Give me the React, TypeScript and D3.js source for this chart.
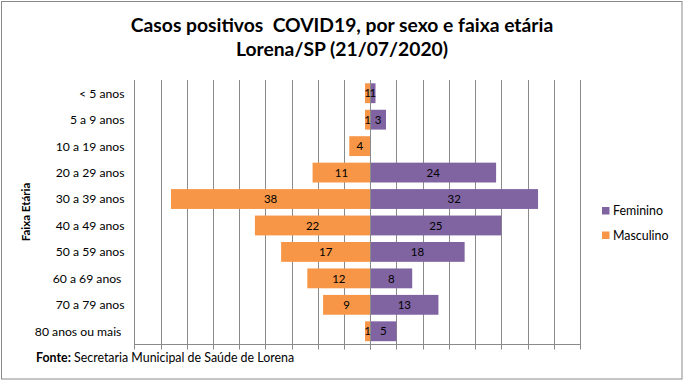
import React from "react";
import * as d3 from "d3";

const categories = [
  "< 5 anos",
  "5 a 9 anos",
  "10 a 19 anos",
  "20 a 29 anos",
  "30 a 39 anos",
  "40 a 49 anos",
  "50 a 59 anos",
  "60 a 69 anos ",
  "70 a 79 anos",
  "80 anos ou mais ",
];
const masculino = [1, 1, 4, 11, 38, 22, 17, 12, 9, 1];
const feminino = [1, 3, 0, 24, 32, 25, 18, 8, 13, 5];
const seriesNames = ["Feminino", "Masculino"];
const titleLines = ["Casos positivos  COVID19, por sexo e faixa etária", "Lorena/SP (21/07/2020)"];
const axisTitle = "Faixa Etária";
const sourceBold = "Fonte:";
const sourceText = " Secretaria Municipal de Saúde de Lorena";

const W = 684;
const H = 381;
const FONT = "Lato, 'Open Sans', sans-serif";
const ORANGE = "#F79646";
const PURPLE = "#8064A2";
const GRID = "#8a8a8a";

export default function App() {
  const x = d3.scaleLinear().domain([-45, 40]).range([134.3, 580]);
  const y = d3
    .scaleBand<string>()
    .domain(categories)
    .range([80, 344.5])
    .paddingInner(0.25)
    .paddingOuter(0.125);
  const ticks = d3.range(-45, 41, 5);
  const bw = y.bandwidth();
  const top = 80;
  const bottom = 344.5;

  return (
    <svg
      width={W}
      height={H}
      style={{ position: "absolute", left: 0, top: 0, background: "#fff" }}
      fontFamily={FONT}
    >
      <rect x={0} y={0} width={W} height={H} fill="#fff" />
      <rect x={1.5} y={1.5} width={680.5} height={377.5} fill="none" stroke={GRID} strokeWidth={1} />
      {/* title */}
      {titleLines.map((t, i) => (
        <text
          key={i}
          x={342}
          y={31.5 + i * 24.5}
          textAnchor="middle"
          fontSize={19.3}
          fontWeight="bold"
          fill="#000"
          style={{ whiteSpace: "pre" }}
        >
          {t}
        </text>
      ))}
      {/* gridlines */}
      {ticks.map((t) => (
        <line
          key={"g" + t}
          x1={Math.round(x(t)) + 0.5}
          x2={Math.round(x(t)) + 0.5}
          y1={top}
          y2={bottom + 5}
          stroke={GRID}
          strokeWidth={1}
        />
      ))}
      {/* bottom axis */}
      <line x1={x(-45)} x2={x(40)} y1={bottom} y2={bottom} stroke={GRID} strokeWidth={1} />
      {/* bars */}
      {categories.map((c, i) => (
        <g key={c}>
          {masculino[i] > 0 && (
            <rect x={x(-masculino[i])} y={y(c)} width={x(0) - x(-masculino[i])} height={bw} fill={ORANGE} />
          )}
          {feminino[i] > 0 && (
            <rect x={x(0)} y={y(c)} width={x(feminino[i]) - x(0)} height={bw} fill={PURPLE} />
          )}
        </g>
      ))}
      {/* zero axis line */}
      <line x1={Math.round(x(0)) + 0.5} x2={Math.round(x(0)) + 0.5} y1={top} y2={bottom + 5} stroke={GRID} strokeWidth={1} />
      {/* data labels */}
      {categories.map((c, i) => (
        <g key={"l" + c} fontSize={11.5} fill="#000">
          {masculino[i] > 0 && (
            <text x={(x(-masculino[i]) + x(0)) / 2} y={(y(c) as number) + bw / 2} dy="0.36em" textAnchor="middle">
              {masculino[i]}
            </text>
          )}
          {feminino[i] > 0 && (
            <text x={(x(feminino[i]) + x(0)) / 2} y={(y(c) as number) + bw / 2} dy="0.36em" textAnchor="middle">
              {feminino[i]}
            </text>
          )}
        </g>
      ))}
      {/* category labels */}
      {categories.map((c) => (
        <text
          key={"c" + c}
          x={124.5}
          y={(y(c) as number) + bw / 2}
          dy="0.36em"
          textAnchor="end"
          fontSize={12.2}
          fill="#000"
          style={{ whiteSpace: "pre" }}
        >
          {c}
        </text>
      ))}
      {/* axis title */}
      <text
        transform={`translate(29.5,212) rotate(-90)`}
        textAnchor="middle"
        fontSize={11.5}
        fontWeight="bold"
        fill="#000"
      >
        {axisTitle}
      </text>
      {/* legend */}
      {seriesNames.map((s, i) => (
        <g key={s}>
          <rect x={602} y={207 + i * 24.5} width={7.5} height={7.5} fill={i === 0 ? PURPLE : ORANGE} />
          <text x={613} y={211 + i * 24.5} dy="0.36em" fontSize={12.4} fill="#000">
            {s}
          </text>
        </g>
      ))}
      {/* source */}
      <text x={36} y={362} fontSize={12.4} fill="#000" style={{ whiteSpace: "pre" }}>
        <tspan fontWeight="bold">{sourceBold}</tspan>
        <tspan>{sourceText}</tspan>
      </text>
    </svg>
  );
}
